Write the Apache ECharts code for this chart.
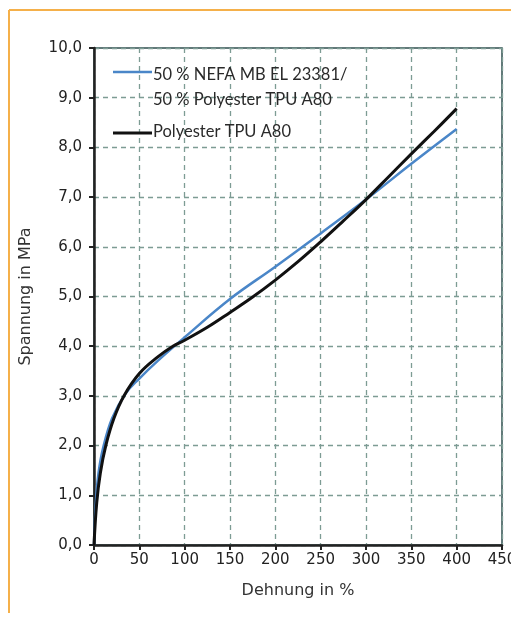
<!DOCTYPE html>
<html><head><meta charset="utf-8">
<script src="https://cdn.jsdelivr.net/npm/echarts@6/dist/echarts.min.js"></script>
<style>html,body{margin:0;padding:0;background:#fff;overflow:hidden;}#c{width:511px;height:617px;}</style>
</head><body><div id="c"></div>
<script>
const xTicks = [0,50,100,150,200,250,300,350,400,450];
const yTicks = [0,1,2,3,4,5,6,7,8,9,10];
const seriesNames = ['50 % NEFA MB EL 23381/\n50 % Polyester TPU A80', 'Polyester TPU A80'];
const blueX = [0,2,5,10,20,35,50,70,100,150,200,250,300,350,400];
const blueY = [0,0.85,1.45,1.95,2.55,3.05,3.35,3.7,4.18,4.95,5.6,6.27,6.95,7.67,8.37];
const blackX = [0,3,7,13,22,33,50,70,87,100,125,150,175,200,225,250,275,300,325,350,375,400];
const blackY = [0,0.85,1.45,2.0,2.55,3.0,3.45,3.78,4.0,4.12,4.38,4.68,4.99,5.33,5.7,6.1,6.52,6.95,7.41,7.87,8.32,8.78];

const chart = echarts.init(document.getElementById('c'), null, {renderer:'canvas'});
const font = 'DejaVu Sans';
const gridColor = '#7d9c94';
chart.setOption({
  animation:false,
  backgroundColor:'#ffffff',
  grid:{left:94, top:48, right:9, bottom:72, outerBoundsMode:'none', containLabel:false, show:true, borderColor:'#2f4f4f', borderWidth:1.5, backgroundColor:'transparent'},
  xAxis:{type:'value', min:0, max:450, interval:50,
    name:'Dehnung in %', nameLocation:'middle', nameGap:38,
    nameTextStyle:{fontFamily:font, fontSize:16, color:'#333'},
    axisLine:{show:true, onZero:false, lineStyle:{color:'#222', width:2.5}},
    axisTick:{show:true, length:5, lineStyle:{color:'#222', width:2}},
    axisLabel:{margin:8, fontFamily:font, fontSize:15, color:'#222', hideOverlap:false, showMaxLabel:true, formatter:v=>String(v)},
    splitLine:{show:true, lineStyle:{color:gridColor, type:[5,4], width:1.3}}},
  yAxis:{type:'value', min:0, max:10, interval:1,
    name:'Spannung in MPa', nameLocation:'middle', nameGap:60,
    nameTextStyle:{fontFamily:font, fontSize:16, color:'#333'},
    axisLine:{show:true, onZero:false, lineStyle:{color:'#222', width:2.5}},
    axisTick:{show:true, length:5, lineStyle:{color:'#222', width:2}},
    axisLabel:{margin:12, fontFamily:font, fontSize:15, color:'#222', formatter:v=>v.toFixed(1).replace('.',',')},
    splitLine:{show:true, lineStyle:{color:gridColor, type:[5,4], width:1.3}}},
  series:[
    {name:seriesNames[0], type:'line', smooth:0.4, symbol:'none', z:2,
     lineStyle:{color:'#4a86c8', width:2.5}, data:blueX.map((x,i)=>[x,blueY[i]])},
    {name:seriesNames[1], type:'line', smooth:0.4, symbol:'none', z:3,
     lineStyle:{color:'#111', width:3}, data:blackX.map((x,i)=>[x,blackY[i]])}
  ],
  graphic:[
    {type:'line', shape:{x1:9,y1:10,x2:511,y2:10}, style:{stroke:'#f5b04a', lineWidth:2}},
    {type:'line', shape:{x1:9,y1:10,x2:9,y2:613}, style:{stroke:'#f5b04a', lineWidth:2}},
    {type:'line', shape:{x1:113,y1:72,x2:152,y2:72}, style:{stroke:'#4a86c8', lineWidth:2.5}, z:51},
    {type:'text', x:153, y:62, style:{text:seriesNames[0], font:'16.5px Lato', fill:'#2a2a2a', lineHeight:25}, z:51},
    {type:'line', shape:{x1:113,y1:133,x2:152,y2:133}, style:{stroke:'#111', lineWidth:3}, z:51},
    {type:'text', x:153, y:123, style:{text:seriesNames[1], font:'16.5px Lato', fill:'#2a2a2a'}, z:51}
  ]
});
</script></body></html>
